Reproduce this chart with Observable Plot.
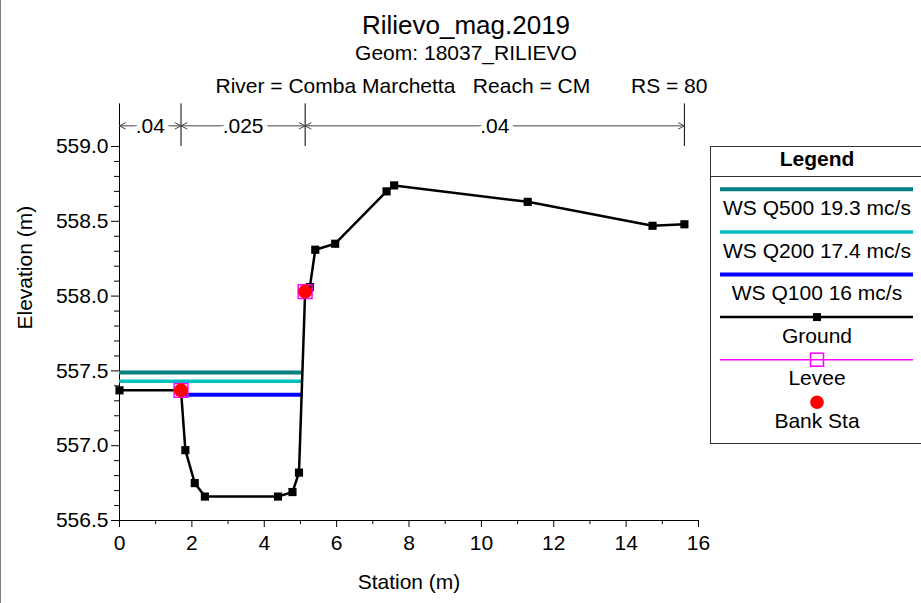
<!DOCTYPE html>
<html>
<head>
<meta charset="utf-8">
<script src="https://cdn.jsdelivr.net/npm/d3@7"></script>
<script src="https://cdn.jsdelivr.net/npm/@observablehq/plot@0.6"></script>
<style>
  html, body { margin: 0; padding: 0; background: #fff; }
  body { font-family: "Liberation Sans", Arial, sans-serif; color: #000; }
  #wrap { position: relative; width: 921px; height: 603px; overflow: hidden; border-left: 1px solid #808080; box-sizing: border-box; }
  .hdr { position: absolute; left: 0; text-align: center; white-space: pre; line-height: 1; }
  #chart { position: absolute; left: -1px; top: 95px; }
  #legend { position: absolute; left: 709px; top: 146px; }
</style>
</head>
<body>
<div id="wrap">
  <div class="hdr" style="top:12px;width:930px;font-size:26px;">Rilievo_mag.2019</div>
  <div class="hdr" style="top:42px;width:930px;font-size:21px;">Geom: 18037_RILIEVO</div>
  <div class="hdr" style="top:75px;width:921px;font-size:21px;">River = Comba Marchetta   Reach = CM       RS = 80</div>
  <div id="chart"></div>
  <div id="legend"></div>
</div>
<script>
// ---- Data ----
const groundSta  = [0, 1.70, 1.82, 2.08, 2.36, 4.38, 4.78, 4.96, 5.13, 5.26, 5.41, 5.96, 7.38, 7.59, 11.28, 14.73, 15.61];
const groundElev = [557.37, 557.37, 556.97, 556.75, 556.66, 556.66, 556.69, 556.82, 558.03, 558.06, 558.31, 558.35, 558.70, 558.74, 558.63, 558.47, 558.48];

const wsNames  = ["WS Q500 19.3 mc/s", "WS Q200 17.4 mc/s", "WS Q100 16 mc/s"];
const wsElev   = [557.49, 557.43, 557.34];
const wsStart  = [0, 0, 1.71];
const wsEnd    = [5.08, 5.08, 5.08];
const wsColors = ["#008080", "#00c0c0", "#0000ff"];
const wsWidths = [4, 3.5, 4];

const bankSta  = [1.70, 5.13];
const bankElev = [557.37, 558.03];
const leveeSta  = [1.70, 5.13];
const leveeElev = [557.37, 558.03];

const nBounds = [0, 1.70, 5.13, 15.61];
const nValues = [".04", ".025", ".04"];

const xMajorTicks = [0, 2, 4, 6, 8, 10, 12, 14, 16];
const xMinorTicks = [1, 3, 5, 7, 9, 11, 13, 15];
const yMajorTicks = [556.5, 557.0, 557.5, 558.0, 558.5, 559.0];
const yMinorTicks = [556.6, 556.7, 556.8, 556.9, 557.1, 557.2, 557.3, 557.4, 557.6, 557.7, 557.8, 557.9, 558.1, 558.2, 558.3, 558.4, 558.6, 558.7, 558.8, 558.9];

const legendLabels = ["WS Q500 19.3 mc/s", "WS Q200 17.4 mc/s", "WS Q100 16 mc/s", "Ground", "Levee", "Bank Sta"];

// ---- Derived tables ----
const ground = groundSta.map((x, i) => ({x, y: groundElev[i]}));
const ws = wsNames.map((name, i) => ({name, y: wsElev[i], x1: wsStart[i], x2: wsEnd[i], color: wsColors[i], w: wsWidths[i]}));
const banks = bankSta.map((x, i) => ({x, y: bankElev[i]}));
const levees = leveeSta.map((x, i) => ({x, y: leveeElev[i]}));
const nTop = 559.285, nArrowY = 559.138;
const nSegs = nValues.map((n, i) => ({n, a: nBounds[i], b: nBounds[i + 1], mid: (nBounds[i] + nBounds[i + 1]) / 2, y: nArrowY}));
const nArrows = nSegs.flatMap(s => [{from: s.mid, to: s.a, y: s.y}, {from: s.mid, to: s.b, y: s.y}]);
const nRules = nBounds.slice(1).map(x => ({x, y1: 559.0, y2: nTop}));

const FONT = "Liberation Sans, Arial, sans-serif";

const chart = Plot.plot({
  width: 921,
  height: 508,
  marginTop: 51,
  marginBottom: 83,
  marginLeft: 119,
  marginRight: 223,
  x: {domain: [0, 16]},
  y: {domain: [556.5, 559.0]},
  color: {type: "identity"},
  style: {fontFamily: FONT, fontSize: "21px", color: "#000", background: "transparent", overflow: "visible"},
  marks: [
    Plot.axisY({ticks: yMinorTicks, tickSize: 5, tickFormat: () => "", label: null}),
    Plot.axisY({ticks: yMajorTicks, tickSize: 8, tickPadding: 3, tickFormat: d => d.toFixed(1), label: null, fontSize: 21}),
    Plot.axisX({ticks: xMinorTicks, tickSize: 4, tickFormat: () => "", label: null}),
    Plot.axisX({ticks: xMajorTicks, tickSize: 7, tickPadding: 8, label: null, fontSize: 21}),
    // axis lines
    Plot.ruleY([556.5], {x1: 0, x2: 16, stroke: "#000", strokeWidth: 1}),
    Plot.ruleX([0], {y1: 556.5, y2: nTop, stroke: "#000", strokeWidth: 1}),
    // Manning's n annotation
    Plot.ruleX(nRules, {x: "x", y1: "y1", y2: "y2", stroke: "#000", strokeWidth: 1}),
    Plot.arrow(nArrows, {x1: "from", x2: "to", y1: "y", y2: "y", stroke: "#444", strokeWidth: 1, headLength: 10, headAngle: 55}),
    Plot.text(nSegs, {x: "mid", y: "y", text: "n", fontSize: 21, dy: 0, fill: "#000", stroke: "white", strokeWidth: 10, paintOrder: "stroke"}),
    // Water surfaces
    Plot.ruleY(ws, {y: "y", x1: "x1", x2: "x2", stroke: "color", strokeWidth: "w"}),
    // Ground
    Plot.line(ground, {x: "x", y: "y", stroke: "#000", strokeWidth: 2.5}),
    Plot.dot(ground, {x: "x", y: "y", symbol: "square", fill: "#000", r: 4.6}),
    // Levee and bank stations
    Plot.dot(levees, {x: "x", y: "y", symbol: "square", stroke: "#ff00ff", fill: "none", strokeWidth: 1.5, r: 7.8}),
    Plot.dot(banks, {x: "x", y: "y", fill: "#ff0000", r: 7}),
    // Axis titles
    Plot.text(["Elevation (m)"], {frameAnchor: "left", dx: -94, dy: -4, rotate: -90, fontSize: 21}),
    Plot.text(["Station (m)"], {frameAnchor: "bottom", dy: 68, fontSize: 21})
  ]
});
document.getElementById("chart").appendChild(chart);

// ---- Legend ----
const lw = 220, lh = 298;
const lg = d3.select("#legend").append("svg")
  .attr("width", lw).attr("height", lh)
  .style("font-family", FONT).style("overflow", "visible");
lg.append("rect").attr("x", 0.5).attr("y", 0.5).attr("width", lw).attr("height", lh - 1)
  .attr("fill", "white").attr("stroke", "#333");
lg.append("text").attr("x", 107).attr("y", 20).attr("text-anchor", "middle")
  .attr("font-weight", "bold").attr("font-size", 21).text("Legend");
lg.append("line").attr("x1", 0).attr("x2", lw).attr("y1", 30.5).attr("y2", 30.5).attr("stroke", "#333");
const step = 42.6, lineY0 = 43.3, textY0 = 69;
legendLabels.forEach((lab, i) => {
  const ly = lineY0 + i * step, ty = textY0 + i * step;
  if (i < 3) {
    lg.append("line").attr("x1", 10).attr("x2", 203).attr("y1", ly).attr("y2", ly)
      .attr("stroke", wsColors[i]).attr("stroke-width", wsWidths[i]);
  } else if (i === 3) {
    lg.append("line").attr("x1", 10).attr("x2", 203).attr("y1", ly).attr("y2", ly)
      .attr("stroke", "#000").attr("stroke-width", 2.5);
    lg.append("rect").attr("x", 107 - 4).attr("y", ly - 4).attr("width", 8).attr("height", 8).attr("fill", "#000");
  } else if (i === 4) {
    lg.append("line").attr("x1", 10).attr("x2", 203).attr("y1", ly).attr("y2", ly)
      .attr("stroke", "#ff00ff").attr("stroke-width", 1.5);
    lg.append("rect").attr("x", 107 - 6.5).attr("y", ly - 6.5).attr("width", 13).attr("height", 13)
      .attr("fill", "none").attr("stroke", "#ff00ff").attr("stroke-width", 1.5);
  } else {
    lg.append("circle").attr("cx", 107).attr("cy", ly).attr("r", 6.8).attr("fill", "#ff0000");
  }
  lg.append("text").attr("x", 107).attr("y", ty).attr("text-anchor", "middle").attr("font-size", 21).text(lab);
});
</script>
</body>
</html>
